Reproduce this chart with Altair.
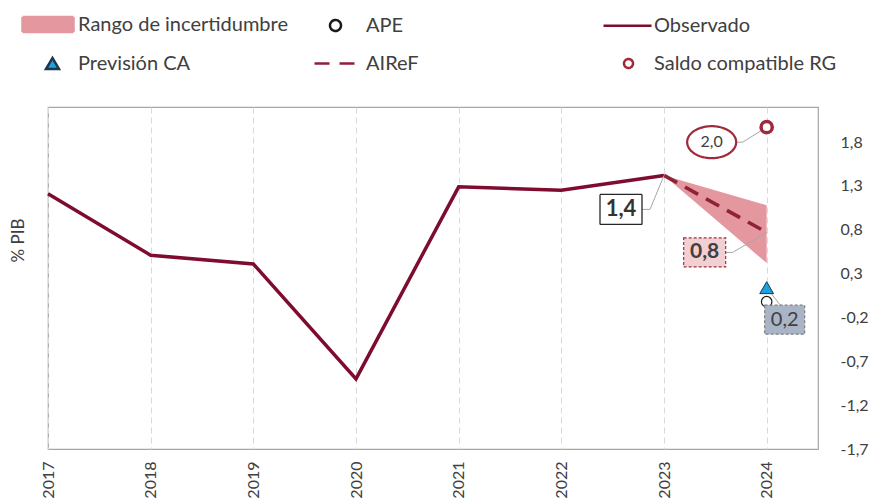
import altair as alt
import pandas as pd

# ---------------- data ----------------
years = [2017, 2018, 2019, 2020, 2021, 2022, 2023]
observado = [1.21, 0.51, 0.41, -0.90, 1.29, 1.25, 1.42]

airef_years = [2023, 2024]
airef = [1.42, 0.77]
rango_low = [1.42, 0.42]
rango_high = [1.42, 1.08]

final_year = 2024
ape = -0.02
prevision_ca = 0.14
saldo_rg = 1.97

legend_labels = ["Rango de incertidumbre", "APE", "Observado",
                 "Previsión CA", "AIReF", "Saldo compatible RG"]

ann_texts = ["1,4", "0,8", "0,2", "2,0"]
ann_years = [2023, 2024, 2024, 2024]
ann_values = [1.42, 0.77, 0.14, 1.97]

x_ticks = [2017, 2018, 2019, 2020, 2021, 2022, 2023, 2024]
y_ticks = [-1.7, -1.2, -0.7, -0.2, 0.3, 0.8, 1.3, 1.8]

# ---------------- style ----------------
FONT = "Lato"
TXT = "#404040"
MAROON = "#7e0c2e"
AIREF_C = "#8e2239"
PINK = "#e4979f"
SALDO_C = "#a02a3c"
BLUE = "#1aa3dc"
K = 10.0  # px per path unit with size=400


def _n(v):
    return f"{v / K:g}"


def rect_path(cx, cy, w, h):
    return (f"M{_n(cx - w / 2)},{_n(cy - h / 2)}H{_n(cx + w / 2)}"
            f"V{_n(cy + h / 2)}H{_n(cx - w / 2)}Z")


def ellipse_path(cx, cy, rx, ry):
    return (f"M{_n(cx + rx)},{_n(cy)}A{_n(rx)},{_n(ry)} 0 1,1 {_n(cx - rx)},{_n(cy)}"
            f"A{_n(rx)},{_n(ry)} 0 1,1 {_n(cx + rx)},{_n(cy)}Z")


def poly_path(pts, close=False):
    s = "M" + "L".join(f"{_n(x)},{_n(y)}" for x, y in pts)
    return s + ("Z" if close else "")


x_scale = alt.Scale(domain=[2017, 2024.5], nice=False, zero=False)
y_scale = alt.Scale(domain=[-1.7, 2.2], nice=False, zero=False)

x_axis = alt.Axis(values=x_ticks, format="d", labelAngle=-90, labelFlush=False,
                  labelFont=FONT, labelFontSize=16, labelColor=TXT, labelPadding=12,
                  ticks=False, domain=False, grid=True, gridColor="#d9d9d9",
                  gridDash=[6, 4], gridWidth=1, title=None)
y_axis = alt.Axis(orient="right", values=y_ticks,
                  labelExpr="replace(toString(datum.value), '.', ',')",
                  labelFont=FONT, labelFontSize=16, labelColor=TXT, labelPadding=22,
                  labelAlign="left", ticks=False, domain=False, grid=False,
                  title="% PIB", titleFont=FONT, titleFontSize=17,
                  titleFontWeight="normal", titleColor=TXT, titleAngle=-90,
                  titleX=-800, titleY=133, titleAlign="center", titleBaseline="middle")


def X(field="year"):
    return alt.X(f"{field}:Q", scale=x_scale, axis=x_axis)


def Y(field="value"):
    return alt.Y(f"{field}:Q", scale=y_scale, axis=y_axis)


obs_df = pd.DataFrame({"year": years, "value": observado})
airef_df = pd.DataFrame({"year": airef_years, "value": airef})
band_df = pd.DataFrame({"year": airef_years, "low": rango_low, "high": rango_high})
ape_df = pd.DataFrame({"year": [final_year], "value": [ape]})
ca_df = pd.DataFrame({"year": [final_year], "value": [prevision_ca]})
saldo_df = pd.DataFrame({"year": [final_year], "value": [saldo_rg]})

band = alt.Chart(band_df).mark_area(color=PINK, opacity=1).encode(
    x=X(), y=Y("high"), y2="low:Q")
obs_line = alt.Chart(obs_df).mark_line(color=MAROON, strokeWidth=3.5).encode(
    x=X(), y=Y())
airef_line = alt.Chart(airef_df).mark_line(
    color=AIREF_C, strokeWidth=3.6, strokeDash=[15, 9]).encode(x=X(), y=Y())

# ---------------- legend (library legend from a shared nominal field) ----------------
leg_shapes = [
    rect_path(-14.5, 0, 51, 15),
    ellipse_path(-15, 0, 5.5, 5.5),
    poly_path([(-35, 0), (13, 0)]),
    poly_path([(-10, -5.5), (-16.5, 5.5), (-3.5, 5.5)], close=True),
    poly_path([(-36, 0), (9, 0)]),
    ellipse_path(-10, 0, 4.5, 4.5),
]
leg_fills = [PINK, "white", "transparent", BLUE, "transparent", "white"]
leg_strokes = [PINK, "#1a1a1a", MAROON, "#1f3550", AIREF_C, SALDO_C]
leg_dashes = [[1, 0], [1, 0], [1, 0], [1, 0], [15, 10], [1, 0]]


def lsc(rng):
    return alt.Scale(domain=legend_labels, range=rng)


legend_layer = alt.Chart(pd.DataFrame({"serie": legend_labels})).transform_filter(
    "false").mark_point(filled=True, opacity=1, size=400).encode(
    fill=alt.Fill("serie:N", scale=lsc(leg_fills), title=None),
    stroke=alt.Stroke("serie:N", scale=lsc(leg_strokes), title=None),
    shape=alt.Shape("serie:N", scale=lsc(leg_shapes), title=None),
    strokeDash=alt.StrokeDash("serie:N", scale=lsc(leg_dashes), title=None),
)

# ---------------- point markers ----------------
ape_pt = alt.Chart(ape_df).mark_point(
    shape="circle", size=110, filled=True, fill="white", stroke="#1a1a1a",
    strokeWidth=1.2, opacity=1).encode(x=X(), y=Y())
ca_pt = alt.Chart(ca_df).mark_point(
    shape="triangle-up", size=190, filled=True, fill=BLUE, stroke="#1f3550",
    strokeWidth=1, opacity=1).encode(x=X(), y=Y())
saldo_pt = alt.Chart(saldo_df).mark_point(
    shape="circle", size=125, filled=True, fill="white", stroke=SALDO_C,
    strokeWidth=3.5, opacity=1).encode(x=X(), y=Y())

# ---------------- annotations ----------------
ann_style = [
    dict(path=rect_path(-43, 34, 42, 30), fill="white", stroke="#262626", dash=[1, 0],
         sw=1.3, leader=[(0, 0), (-14, 34), (-22, 34)], dx=-43, dy=34,
         fs=22, fw="bold", col="#333333"),
    dict(path=rect_path(-62, 20, 42, 29), fill="#f2cfd2", stroke="#a0303f", dash=[3, 2],
         sw=1.2, leader=[(0, 0), (-34, 20), (-41, 20)], dx=-62, dy=20,
         fs=21, fw="bold", col="#404040"),
    dict(path=rect_path(18, 32, 40, 29), fill="#aab4c7", stroke="#7f7f7f", dash=[3, 2],
         sw=1.2, leader=[(0, 0), (14, 18)], dx=18, dy=32,
         fs=20, fw="normal", col="#404040"),
    dict(path=ellipse_path(-55, 15, 24.5, 16), fill="white", stroke=SALDO_C, dash=[1, 0],
         sw=2.2, leader=[(0, 0), (-24, 15), (-31, 15)], dx=-55, dy=15,
         fs=16, fw="normal", col="#404040"),
]

leaders, boxes, texts = [], [], []
for i, st in enumerate(ann_style):
    d = pd.DataFrame({"year": [ann_years[i]], "value": [ann_values[i]],
                      "label": [ann_texts[i]]})
    base = alt.Chart(d)
    leaders.append(base.mark_point(shape=poly_path(st["leader"]), size=400,
                                   filled=False, stroke="#a6a6a6", strokeWidth=1,
                                   opacity=1).encode(x=X(), y=Y()))
    boxes.append(base.mark_point(shape=st["path"], size=400, filled=True,
                                 fill=st["fill"], stroke=st["stroke"],
                                 strokeDash=st["dash"], strokeWidth=st["sw"],
                                 opacity=1).encode(x=X(), y=Y()))
    texts.append(base.mark_text(dx=st["dx"], dy=st["dy"], font=FONT, fontSize=st["fs"],
                                fontWeight=st["fw"], color=st["col"], align="center",
                                baseline="middle").encode(x=X(), y=Y(), text="label:N"))

chart = alt.layer(
    legend_layer, band, obs_line, airef_line, *leaders, ape_pt, ca_pt, saldo_pt,
    *boxes, *texts
).properties(
    width=770, height=342,
    autosize=alt.AutoSizeParams(type="none"),
    padding={"left": 40, "top": 99, "right": 51, "bottom": 52},
    background="white",
).configure_view(
    stroke="#a6a6a6", strokeWidth=1.2
).configure_legend(
    orient="none", legendX=3, legendY=-94, direction="horizontal", columns=3,
    gridAlign="all", columnPadding=21, rowPadding=15, symbolSize=400,
    symbolStrokeWidth=2.5, labelFont=FONT, labelFontSize=20, labelColor=TXT,
    labelOffset=4, labelLimit=400, padding=0
)

chart.save("out.html", embed_options={"renderer": "svg", "actions": False})
